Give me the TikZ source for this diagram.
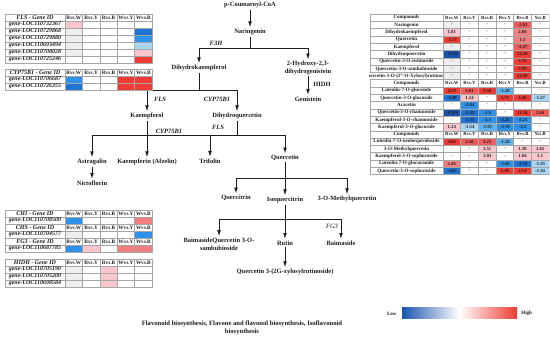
\documentclass[tikz,border=0pt]{standalone}
\usepackage{fontspec}
\setmainfont{Liberation Serif}
\usetikzlibrary{arrows.meta,positioning,calc}
\definecolor{pwInk}{HTML}{1E1E1E}
\definecolor{hmGrid}{HTML}{A6A6A6}
\definecolor{hmGrey}{HTML}{EEEEEE}
\definecolor{hmBlueDeep}{HTML}{1A55AE}
\definecolor{hmBlue}{HTML}{1F74D4}
\definecolor{hmBlueMid}{HTML}{2F92EA}
\definecolor{hmBlueSoft}{HTML}{5DB4F0}
\definecolor{hmBluePale}{HTML}{A8D6F6}
\definecolor{hmPink}{HTML}{F8C6CC}
\definecolor{hmSalmon}{HTML}{F37E7E}
\definecolor{hmRedSoft}{HTML}{F25C5A}
\definecolor{hmRed}{HTML}{EF3B33}
\tikzset{
  pw/compound/.style={font=\fontsize{6.5}{7.6}\selectfont\bfseries, text=pwInk,
    align=center, inner sep=1.5pt},
  pw/enzyme/.style={font=\fontsize{6.5}{7.6}\selectfont\bfseries\itshape,
    text=pwInk, inner sep=1pt},
  pw/line/.style={draw=pwInk, line width=0.9pt},
  pw/arrow/.style={pw/line, -{Latex[length=6pt,width=3.8pt]}},
  pw/caption/.style={font=\fontsize{6.6}{8.4}\selectfont\bfseries, text=pwInk,
    align=center},
  % left gene tables and right compound table share one cell look
  hm/cell/.style={draw=hmGrid, line width=0.4pt, fill=white, minimum width=17.4pt,
    minimum height=7pt, inner sep=0pt, outer sep=0pt,
    font=\fontsize{5.2}{5.5}\selectfont\bfseries, text=pwInk},
  hm/gene/.style={hm/cell, minimum width=60pt,
    font=\fontsize{6}{6.5}\selectfont\bfseries\itshape},
  hm/legend/.style={font=\fontsize{5}{6}\selectfont\bfseries, text=pwInk, inner sep=0pt},
  cmp/cell/.style={hm/cell, minimum width=17.67pt, minimum height=7.3pt,
    font=\fontsize{4.7}{5}\selectfont\bfseries},
  cmp/name/.style={cmp/cell, minimum width=73pt,
    font=\fontsize{5}{5.5}\selectfont\bfseries},
}
% header and gene rows of the left tables
\newcommand{\headrow}[3]{%
  \node[hm/gene] (#1) at (35,#2) {#3};
  \foreach \hh [count=\col] in {Rvs.W,Rvs.Y,Rvs.B,Wvs.Y,Wvs.B}
    \node[hm/cell] (#1-\col) at ({65+17.4*(\col-0.5)},#2) {\hh};
}
\newcommand{\generow}[4]{%
  \node[hm/gene] (#1) at (35,#2) {#3};
  \foreach \hc [count=\col] in {#4}
    \node[hm/cell, fill=\hc] (#1-\col) at ({65+17.4*(\col-0.5)},#2) {};
}
% rows of the compound table
\newcommand{\cmphead}[1]{%
  \node[cmp/name] (cmph#1) at (406.5,{14+7.3*(#1+0.5)}) {Compounds};
  \foreach \hh [count=\col] in {Rvs.W,Rvs.Y,Rvs.B,Rvs.Y,Rvs.B,Yvs.B}
    \node[cmp/cell] (cmph#1-\col) at ({443+17.67*(\col-0.5)},{14+7.3*(#1+0.5)}) {\hh};
}
\newcommand{\cmprow}[3]{%
  \node[cmp/name] (cmp#1) at (406.5,{14+7.3*(#1+0.5)}) {#2};
  \foreach \hv/\hc [count=\col] in {#3}
    \node[cmp/cell, fill=\hc] (cmp#1-\col) at ({443+17.67*(\col-0.5)},{14+7.3*(#1+0.5)}) {\hv};
}

\begin{document}
\begin{tikzpicture}[x=1pt, y=-1pt]
\useasboundingbox[fill=white] (0,0) rectangle (550,339);

% ===== Pathway: compounds =====
\node[pw/compound] (pcoa) at (250,5)   {p-Coumaroyl-CoA};
\node[pw/compound] (nar)  at (250,32)  {Naringenin};
\node[pw/compound] (dhk)  at (199,68)  {Dihydrokaempferol};
\node[pw/compound] (hdg)  at (308,68)  {2-Hydroxy-2,3-\\dihydrogenistein};
\node[pw/compound] (gen)  at (308,99)  {Genistein};
\node[pw/compound] (kae)  at (147,116) {Kaempferol};
\node[pw/compound] (dhq)  at (237,116) {Dihydroquercetin};
\node[pw/compound] (ast)  at (92,162)  {Astragalin};
\node[pw/compound] (nic)  at (92,183)  {Nictoflorin};
\node[pw/compound] (afz)  at (147,162) {Kaempferin (Afzelin)};
\node[pw/compound] (tri)  at (210,161) {Trifolin};
\node[pw/compound] (que)  at (285,158) {Quercetin};
\node[pw/compound] (qtr)  at (236,198) {Quercitrin};
\node[pw/compound] (iso)  at (285,200) {Isoquercitrin};
\node[pw/compound] (mqu)  at (347,199) {3-O-Methylquercetin};
\node[pw/compound] (bqs)  at (219,244) {BaimasideQuercetin 3-O-\\sambubioside};
\node[pw/compound] (rut)  at (285,243) {Rutin};
\node[pw/compound] (bai)  at (341,243) {Baimaside};
\node[pw/compound] (q2g)  at (285,272) {Quercetin 3-(2G-xylosylrutinoside)};

% ===== Pathway: enzymes =====
\node[pw/enzyme] (f3h)  at (216,43)  {F3H};
\node[pw/enzyme] (fls1) at (160,99)  {FLS};
\node[pw/enzyme] (cyp1) at (217,99)  {CYP75B1};
\node[pw/enzyme] (fls2) at (218,127) {FLS};
\node[pw/enzyme] (cyp2) at (169,131) {CYP75B1};
\node[pw/enzyme, font=\fontsize{6.5}{7.6}\selectfont\bfseries] (hidh) at (322,84) {HIDH};
\node[pw/enzyme, font=\fontsize{6.5}{7.6}\selectfont\itshape] (fg3) at (332,226) {FG3};

% ===== Pathway: connectors =====
\coordinate (narbr) at (250,48);
\coordinate (dhkbr) at (199,90);
\coordinate (kaebr) at (147,135);
\coordinate (dhqbr) at (237,135);
\coordinate (quebr) at (285,178);
\coordinate (isobr) at (285,219);
\draw[pw/arrow] (pcoa) -- (nar);
\draw[pw/line]  (nar) -- (narbr);
\draw[pw/arrow] (narbr) -| (dhk);
\draw[pw/arrow] (narbr) -| (hdg);
\draw[pw/arrow] (hdg) -- (gen);
\draw[pw/line]  (dhk) -- (dhkbr);
\draw[pw/arrow] (dhkbr) -| (kae);
\draw[pw/arrow] (dhkbr) -| (dhq);
\draw[pw/line]  (kae) -- (kaebr);
\draw[pw/line]  (dhq) -- (dhqbr);
\draw[pw/line]  (kaebr) -- (dhqbr);
\draw[pw/arrow] (kaebr) -| (ast);
\draw[pw/arrow] (kaebr) -- (afz);
\draw[pw/arrow] (dhqbr) -| (tri);
\draw[pw/arrow] (dhqbr) -| (que);
\draw[pw/arrow] (ast) -- (nic);
\draw[pw/line]  (que) -- (quebr);
\draw[pw/arrow] (quebr) -| (qtr);
\draw[pw/arrow] (quebr) -- (iso);
\draw[pw/arrow] (quebr) -| (mqu);
\draw[pw/line]  (iso) -- (isobr);
\draw[pw/arrow] (isobr) -| (bqs);
\draw[pw/arrow] (isobr) -- (rut);
\draw[pw/arrow] (isobr) -| (bai);
\draw[pw/arrow] (rut) -- (q2g);

% ===== Left: gene tables =====
\headrow{flsh}{17.5}{FLS - Gene ID}
\generow{fls1}{24.5}{gene-LOC110732367}{hmPink,white,white,white,white}
\generow{fls2}{31.5}{gene-LOC110729868}{hmGrey,white,white,white,hmBlue}
\generow{fls3}{38.5}{gene-LOC110729880}{hmGrey,white,white,white,hmBlueMid}
\generow{fls4}{45.5}{gene-LOC110693494}{hmGrey,white,white,white,hmBluePale}
\generow{fls5}{52.5}{gene-LOC110708028}{hmGrey,white,white,white,hmPink}
\generow{fls6}{59.5}{gene-LOC110725246}{white,white,white,white,hmRed}

\headrow{cyph}{72.5}{CYP75B1 - Gene ID}
\generow{cyp1}{79.5}{gene-LOC110706687}{hmBlueMid,white,white,hmRed,hmRed}
\generow{cyp2}{86.5}{gene-LOC110726355}{hmBlue,white,white,hmRed,hmRed}

\headrow{chih}{213.5}{CHI - Gene ID}
\generow{chi1}{220.5}{gene-LOC110708500}{hmBlueMid,white,white,white,hmSalmon}
\headrow{chsh}{227.5}{CHS - Gene ID}
\generow{chs1}{234.5}{gene-LOC110704577}{hmGrey,white,white,white,hmBlueMid}
\headrow{fg3h}{241.5}{FG3 - Gene ID}
\generow{fg31}{248.5}{gene-LOC110687785}{hmBlueMid,hmPink,white,hmSalmon,hmSalmon}

\headrow{hidhh}{262.5}{HIDH - Gene ID}
\generow{hidh1}{269.5}{gene-LOC110705190}{hmGrey,white,hmPink,white,white}
\generow{hidh2}{276.5}{gene-LOC110705200}{hmGrey,white,hmPink,white,white}
\generow{hidh3}{283.5}{gene-LOC110698584}{hmGrey,white,hmPink,white,white}

% ===== Right: compound table =====
\begin{scope}
\clip (369.6,13.6) rectangle (549.4,175);
\cmphead{0}
\cmprow{1}{Naringenin}{-/hmGrey,-/white,-/white,-/white,-2.03/hmRedSoft,-/white}
\cmprow{2}{Dihydrokaempferol}{1.81/hmPink,-/white,-/white,-/white,2.66/hmSalmon,-/white}
\cmprow{3}{Quercetin}{-3.73/hmRed,-/white,-/white,-/white,1.5/hmSalmon,-/white}
\cmprow{4}{Kaempferol}{-/hmGrey,-/white,-/white,-/white,-3.47/hmRedSoft,-/white}
\cmprow{5}{Dihydroquercetin}{-11.94/hmBlueDeep,-/white,-/white,-/white,12.29/hmRed,-/white}
\cmprow{6}{Quercetin-3-O-rutinoside}{-/hmGrey,-/white,-/white,-/white,5.76/hmRed,-/white}
\cmprow{7}{Quercetin-3-O-sambubioside}{-/hmGrey,-/white,-/white,-/white,5.93/hmRed,-/white}
\cmprow{8}{Quercetin-3-O-(2''-O-Xylosyl)rutinoside}{-/hmGrey,-/white,-/white,-/white,12.49/hmRed,-/white}
\cmphead{9}
\cmprow{10}{Luteolin-7-O-glucoside}{4.29/hmRed,3.01/hmRedSoft,3.58/hmRed,-1.28/hmBlueSoft,-/white,-/white}
\cmprow{11}{Quercetin-3-O-glucoside}{-4.49/hmBlue,1.24/hmPink,-/white,5.73/hmRed,4.46/hmRed,-1.27/hmBluePale}
\cmprow{12}{Acacetin}{-/white,-2.04/hmBlueMid,-/white,-/white,-/white,-/white}
\cmprow{13}{Quercetin-3-O-rhamnoside}{-13.06/hmBlueDeep,-5.45/hmBlue,-2.8/hmBlueMid,-/white,12.26/hmRed,2.64/hmRedSoft}
\cmprow{14}{Kaempferol-3-O-rhamnoside}{-/white,-5.35/hmBlue,-3.3/hmBlueMid,-5.25/hmBlue,-3.21/hmBlueMid,-/white}
\cmprow{15}{Kaempferol-3-O-glucoside}{1.24/hmPink,-1.54/hmBluePale,-1.95/hmBlueSoft,-2.78/hmBlueMid,-3.2/hmBlueMid,-/white}
\cmphead{16}
\cmprow{17}{Luteolin-7-O-neohesperidoside}{4.06/hmRed,2.48/hmRedSoft,3.25/hmRedSoft,-1.58/hmBlueSoft,-/white,-/white}
\cmprow{18}{3-O-Methylquercetin}{-/white,-/white,1.51/hmPink,-/white,1.38/hmPink,1.65/hmPink}
\cmprow{19}{Kaempferol-3-O-sophoroside}{-/white,-/white,1.03/hmPink,-/white,1.04/hmPink,1.1/hmPink}
\cmprow{20}{Luteolin-7-O-glucuronide}{2.46/hmSalmon,-/white,-/white,-2.06/hmBlueMid,-3.43/hmBlue,-1.35/hmBluePale}
\cmprow{21}{Quercetin-3-O-sophoroside}{-4.65/hmBlue,-/white,-/white,5.48/hmRed,4.14/hmRed,-1.34/hmBluePale}
\end{scope}

% ===== Caption and colour key =====
\node[pw/caption] (capt) at (242,328) {Flavonoid biosynthesis, Flavone and flavonol biosynthesis, Isoflavonoid\\biosynthesis};
\node[minimum width=115pt, minimum height=11pt, inner sep=0pt,
      left color=hmBlueDeep, right color=hmRed, middle color=white] (bar) at (459.5,313.5) {};
\node[hm/legend, left=5pt of bar]  (low)  {Low};
\node[hm/legend, right=4pt of bar] (high) {High};

\end{tikzpicture}
\end{document}
